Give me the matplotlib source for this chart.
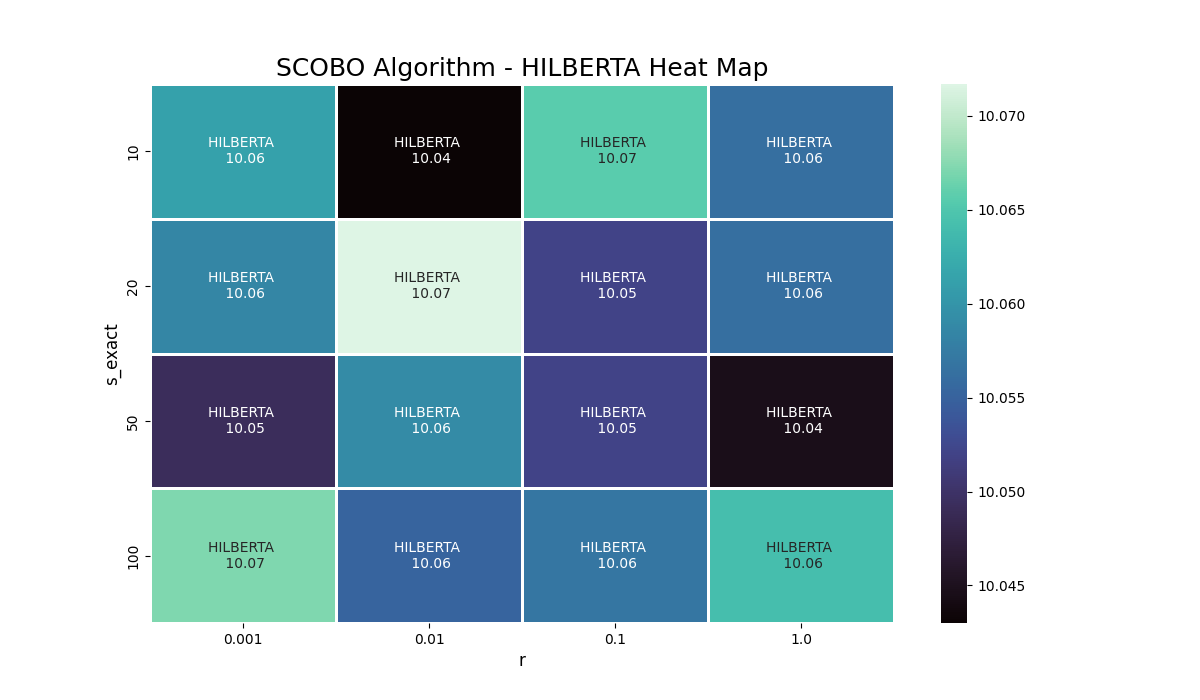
import matplotlib
matplotlib.use("Agg")
import matplotlib.pyplot as plt
import numpy as np
import pandas as pd
import seaborn as sns

s_exact = [10, 20, 50, 100]
r_values = [0.001, 0.01, 0.1, 1.0]
algo_name = "HILBERTA"

# objective values, rows = s_exact, cols = r
values = [
    [10.0612, 10.0430, 10.0656, 10.0562],
    [10.0585, 10.0717, 10.0520, 10.0562],
    [10.0492, 10.0590, 10.0520, 10.0446],
    [10.0672, 10.0552, 10.0570, 10.0641],
]

df = pd.DataFrame(values, index=pd.Index(s_exact, name="s_exact"),
                  columns=pd.Index(r_values, name="r"))
labels = np.array([[f"{algo_name} \n {v:.2f}" for v in row] for row in values])

fig = plt.figure(figsize=(12, 7), dpi=100)
ax = sns.heatmap(df, annot=labels, fmt="", cmap="mako", linewidths=0.75, linecolor="white")
ax.set_title("SCOBO Algorithm - HILBERTA Heat Map", fontsize=18)
ax.set_xlabel("r", fontsize=12)
ax.set_ylabel("s_exact", fontsize=12)
plt.savefig("out.png", dpi=100)
plt.close()
